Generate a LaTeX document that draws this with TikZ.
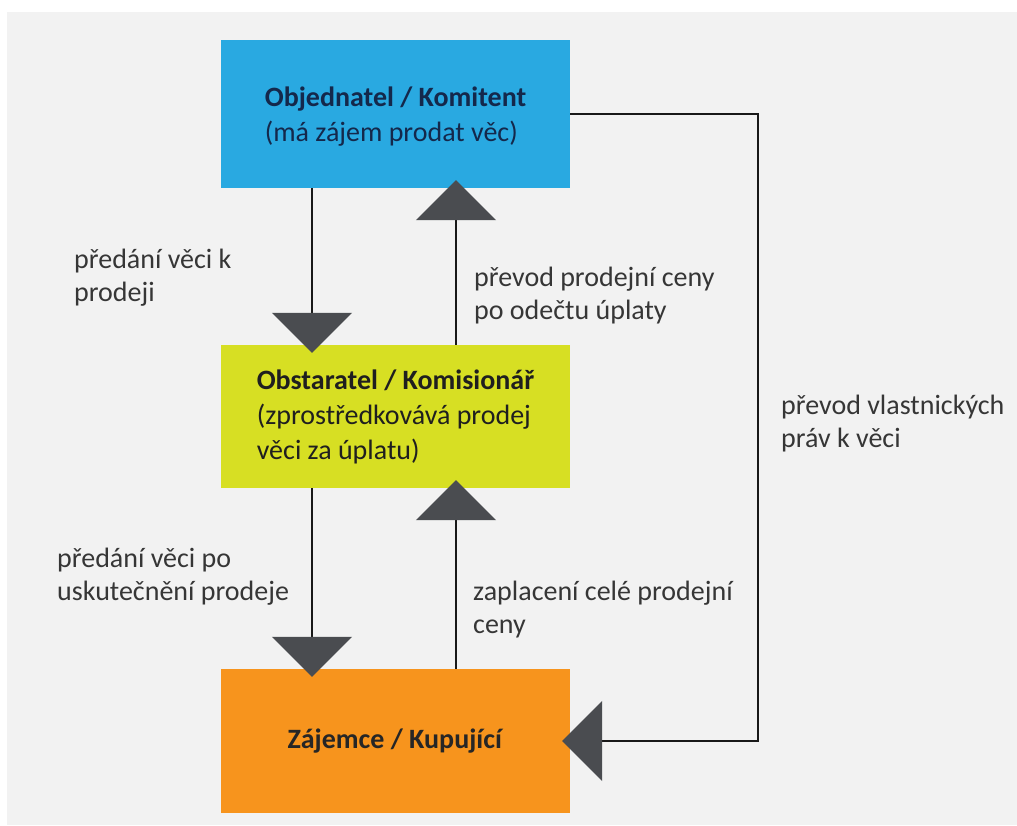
\documentclass[tikz,border=0pt]{standalone}
\usepackage{fontspec}
\setmainfont{Carlito}
\usetikzlibrary{arrows.meta}
\definecolor{bggray}{HTML}{F2F2F2}
\definecolor{kblue}{HTML}{29A9E1}
\definecolor{klime}{HTML}{D7DF23}
\definecolor{korange}{HTML}{F7941D}
\definecolor{tipgray}{HTML}{4A4C50}
\definecolor{labgray}{HTML}{363636}
\definecolor{navy}{HTML}{14284B}
\tikzstyle{box} = [minimum width=349pt, inner sep=0pt, align=left, font=\fontsize{28}{35}\selectfont]
\tikzstyle{lab} = [anchor=base west, inner sep=0pt, align=left, text=labgray, font=\fontsize{28}{33}\selectfont]
\tikzstyle{flow} = [line width=1.5pt, black!90, -{Triangle[width=80pt, length=40pt, fill=tipgray, color=tipgray]}, shorten >=-8pt]

\begin{document}
\begin{tikzpicture}[x=1pt, y=-1pt]
        \useasboundingbox (0,0) rectangle (1017,825);
        \fill [white] (0,0) rectangle (1017,825);
        \fill [bggray] (7,12) rectangle (1017,825);
        \node (obj) [box, fill=kblue, text=navy, text depth=-4pt, minimum height=148pt] at (395.5,114) {\textbf{Objednatel / Komitent}\\(má zájem prodat věc)};
        \node (obs) [box, fill=klime, text=black!88, minimum height=143pt] at (395.5,416.5) {\textbf{Obstaratel / Komisionář}\\(zprostředkovává prodej\\věci za úplatu)};
        \node (zaj) [box, fill=korange, text=black!85, minimum height=144pt] at (395.5,741) {\textbf{Zájemce / Kupující}};
        \coordinate (down) at (312,0);
        \coordinate (up) at (456,0);
        \coordinate (bend) at (758,741);
        \draw [flow] (obj.south -| down) -- (obs.north -| down);
        \draw [flow] (obs.north -| up) -- (obj.south -| up);
        \draw [flow] (obs.south -| down) -- (zaj.north -| down);
        \draw [flow] (zaj.north -| up) -- (obs.south -| up);
        \draw [flow] (obj.east) -| (bend) -- (zaj.east);
        % the base of a two-line label is its second line
        \node (lab1) [lab] at (74,301) {předání věci k\\prodeji};
        \node (lab2) [lab] at (474,319) {převod prodejní ceny\\po odečtu úplaty};
        \node (lab3) [lab] at (781,447) {převod vlastnických\\práv k věci};
        \node (lab4) [lab] at (57,600) {předání věci po\\uskutečnění prodeje};
        \node (lab5) [lab] at (473,633) {zaplacení celé prodejní\\ceny};
    \end{tikzpicture}
\end{document}
